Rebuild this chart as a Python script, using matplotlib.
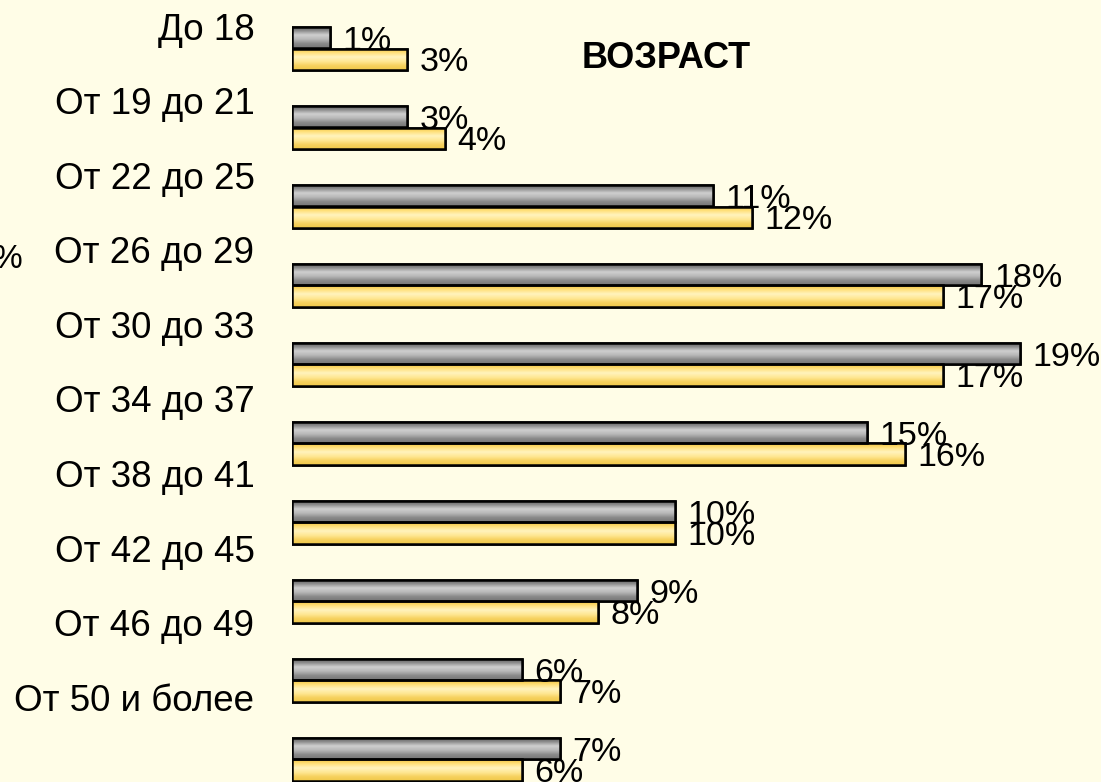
import numpy as np
import matplotlib
matplotlib.use("Agg")
import matplotlib.pyplot as plt
from matplotlib.colors import LinearSegmentedColormap

plt.rcParams['font.family'] = ['Liberation Sans', 'DejaVu Sans']

categories = ["До 18", "От 19 до 21", "От 22 до 25", "От 26 до 29", "От 30 до 33",
              "От 34 до 37", "От 38 до 41", "От 42 до 45", "От 46 до 49", "От 50 и более"]
series_gray = [1, 3, 11, 18, 19, 15, 10, 9, 6, 7]
series_yellow = [3, 4, 12, 17, 17, 16, 10, 8, 7, 6]
title = "ВОЗРАСТ"

W, H = 1101, 782
bg = '#FFFDE7'
fig = plt.figure(figsize=(W / 100, H / 100), dpi=100, facecolor=bg)

# label axes (offset category labels)
ax2 = fig.add_axes([292 / W, 0, 809 / W, 1])
ax2.set_ylim((H - 26) / 74.6, -26 / 74.6)
ax2.set_yticks(range(len(categories)))
ax2.set_yticklabels(categories, fontsize=26.5)
ax2.tick_params(axis='y', length=0, pad=27)
ax2.set_xticks([])
for s in ax2.spines.values():
    s.set_visible(False)
ax2.patch.set_alpha(0)

ax = fig.add_axes([292 / W, 0, 809 / W, 1])
ax.patch.set_alpha(0)
ax.set_xlim(0, 809 / 38.3)
ax.set_ylim((H - 48.5) / 79, -48.5 / 79)
ax.axis('off')

y = np.arange(len(categories))
h = 0.27
b1 = ax.barh(y - h / 2, series_gray, height=h, color='#a0a0a0', edgecolor='black', linewidth=1.8, zorder=2)
b2 = ax.barh(y + h / 2, series_yellow, height=h, color='#ffe68a', edgecolor='black', linewidth=1.8, zorder=2)

cm_gray = LinearSegmentedColormap.from_list('g', ['#5a5a5a', '#8a8a8a', '#cfcfcf', '#b8b8b8', '#8a8a8a', '#767676'])
cm_yel = LinearSegmentedColormap.from_list('y', ['#f2c23c', '#ffe07a', '#fff3bd', '#ffe896', '#f6d260', '#f0c84a'])
grad = np.linspace(0, 1, 64).reshape(-1, 1)
for bars, cm in ((b1, cm_gray), (b2, cm_yel)):
    for p in bars:
        x0, y0 = p.get_x(), p.get_y()
        w, hh = p.get_width(), p.get_height()
        im = ax.imshow(grad, cmap=cm, aspect='auto', extent=(x0, x0 + w, y0 + hh, y0),
                       origin='upper', zorder=2.5, interpolation='bilinear')
        im.set_clip_path(p)
        p2 = plt.Rectangle((x0, y0), w, hh, fill=False, edgecolor='black', linewidth=1.8, zorder=3)
        ax.add_patch(p2)

for bars, vals in ((b1, series_gray), (b2, series_yellow)):
    for p, v in zip(bars, vals):
        ax.annotate(f"{v}%", xy=(p.get_width(), p.get_y() + p.get_height() / 2),
                    xytext=(9, -2.5), textcoords='offset points',
                    ha='left', va='center', fontsize=24.5, zorder=4)

ax.set_xlim(0, 809 / 38.3)
ax.set_ylim((H - 48.5) / 79, -48.5 / 79)

fig.text(666 / W, 1 - 58 / H, title, ha='center', va='center', fontsize=26, fontweight='bold')
fig.text(22 / W, 1 - 260 / H, "%", ha='right', va='center', fontsize=24)

fig.savefig('out.png', dpi=100, facecolor=bg)
